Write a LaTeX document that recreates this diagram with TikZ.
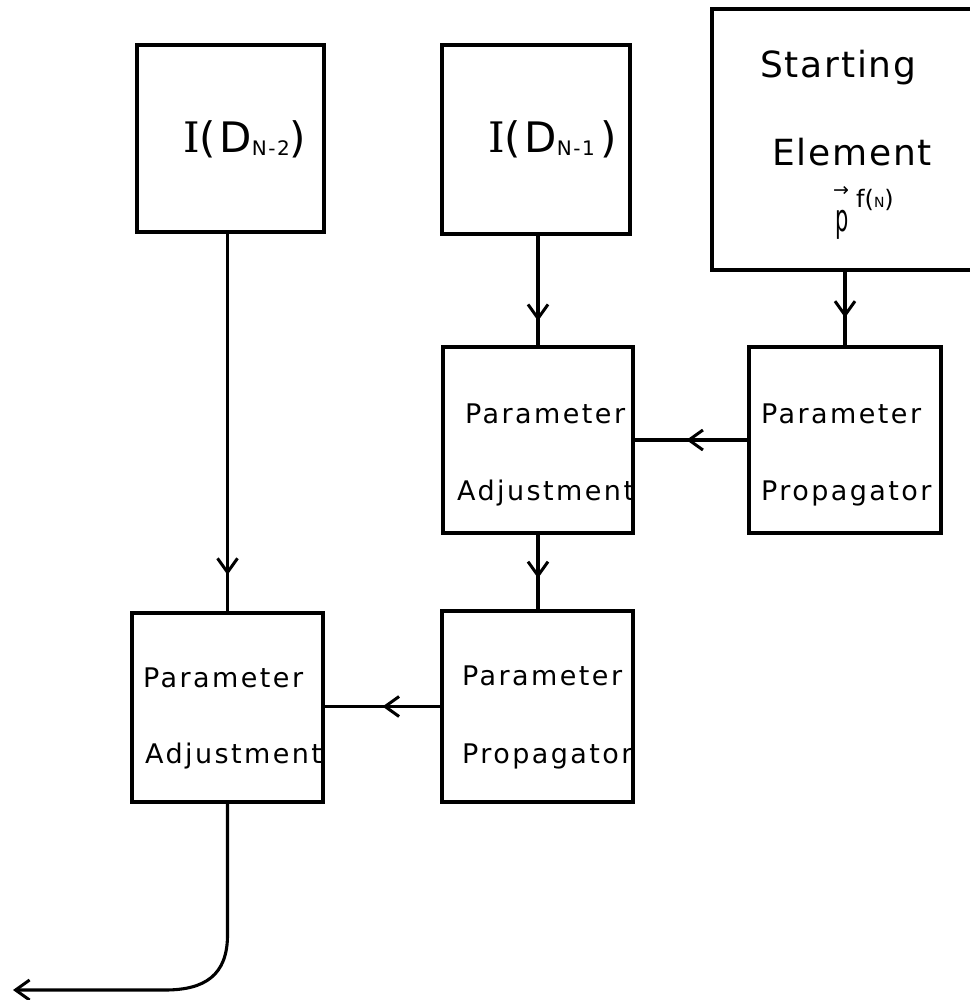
\documentclass[tikz,border=0pt]{standalone}
\usepackage{fontspec}
\usepackage{graphicx}
\usetikzlibrary{arrows.meta,decorations.markings}
\newfontfamily\labfont[LetterSpace=9]{DejaVu Sans}
\newfontfamily\bigfont[LetterSpace=5]{DejaVu Sans}
\newfontfamily\idfont[LetterSpace=8]{DejaVu Sans}
\newfontfamily\serfont{DejaVu Serif}
\newfontfamily\subfont[LetterSpace=8]{DejaVu Sans}
\newfontfamily\plainfont{DejaVu Sans}
\begin{document}
\begin{tikzpicture}[x=1pt,y=-1pt,
  box/.style={draw, line width=3.1pt, rectangle, inner sep=0pt, outer sep=0pt},
  conn/.style={draw, line width=3.1pt},
  barb/.tip={Straight Barb[length=14pt,width=20pt,line width=3pt]},
  midarr/.style={postaction={decorate},
    decoration={markings, mark=at position #1 with {\arrow{barb}}}},
  lab/.style={anchor=base west, inner sep=0pt, font=\fontsize{27}{30}\labfont},
  big/.style={anchor=base west, inner sep=0pt, font=\fontsize{36}{40}\bigfont},
  txt/.style={anchor=base west, inner sep=0pt}]
\useasboundingbox (0,0) rectangle (969,1000);
\fill[white] (0,0) rectangle (969,1000);

% boxes
\node[box, minimum width=187pt, minimum height=187pt] (A) at (230.5,138.5) {};
\node[box, minimum width=188pt, minimum height=189pt] (B) at (536,139.5) {};
\node[box, minimum width=263pt, minimum height=261pt] (C) at (843.5,139.5) {};
\node[box, minimum width=190pt, minimum height=186pt] (D) at (538,440) {};
\node[box, minimum width=192pt, minimum height=186pt] (E) at (845,440) {};
\node[box, minimum width=191pt, minimum height=189pt] (F) at (227.5,707.5) {};
\node[box, minimum width=191pt, minimum height=191pt] (G) at (537.5,706.5) {};

% texts
\node[txt] (tA) at (183,153) {\fontsize{42}{44}\serfont I\idfont(D\fontsize{20}{22}\subfont\raisebox{-3pt}{N-2}\fontsize{42}{44}\idfont)};
\node[txt] (tB) at (488,153) {\fontsize{42}{44}\serfont I\idfont(D\fontsize{20}{22}\subfont\raisebox{-3pt}{N-1}\hspace{6pt}\fontsize{42}{44}\idfont)};

\node[big] (tC1) at (760,78) {Starting};
\node[big] (tC2) at (772,166) {Element};
\node[txt, font=\fontsize{19}{20}\plainfont] (tarr) at (833,197) {→};
\node[txt, font=\fontsize{38}{40}\plainfont] (tp) at (835,232) {\scalebox{0.55}[1]{p}};
\node[txt, font=\fontsize{24}{26}\plainfont] (tf) at (856,208) {f({\fontsize{14}{15}\selectfont N})};

\node[lab] (tDa) at (465,423) {Parameter};
\node[lab] (tDb) at (457,500) {Adjustment};
\node[lab] (tEa) at (761,423) {Parameter};
\node[lab] (tEb) at (761,500) {Propagator};
\node[lab] (tFa) at (143,687) {Parameter};
\node[lab] (tFb) at (145,763) {Adjustment};
\node[lab] (tGa) at (462,685) {Parameter};
\node[lab] (tGb) at (462,763) {Propagator};

% connectors
\draw[conn, midarr=0.9] (A.south -| F.north) -- (F.north);
\draw[conn, midarr=0.77] (D.north |- B.south) -- (D.north);
\draw[conn, midarr=0.62] (E.north |- C.south) -- (E.north);
\draw[conn, midarr=0.58] (D.south) -- (D.south |- G.north);
\draw[conn, midarr=0.54] (E.west) -- (E.west -| D.east);
\draw[conn, midarr=0.5] (G.west) -- (G.west -| F.east);
\coordinate (c1) at (227.5,935);
\coordinate (c2) at (165,990);
\coordinate (out) at (13,990);
\draw[conn, -{barb}] (F.south) -- (c1) .. controls (227.5,975) and (205,990) .. (c2) -- (out);
\end{tikzpicture}
\end{document}
